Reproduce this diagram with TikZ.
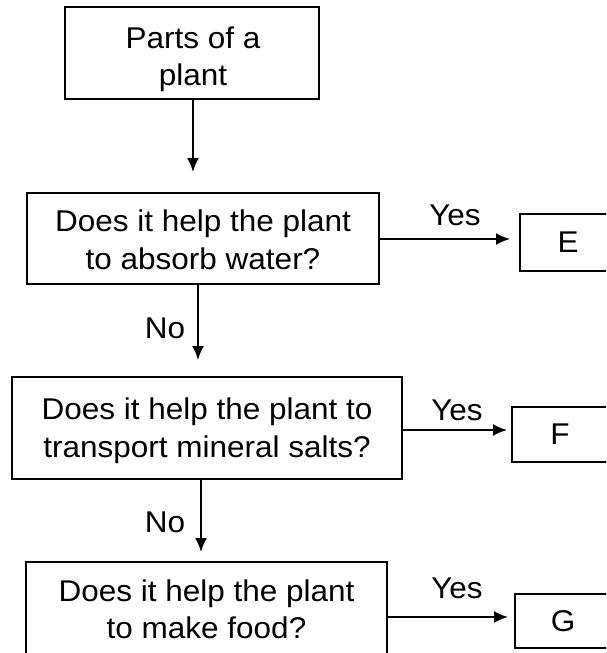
\documentclass[tikz,border=0pt]{standalone}
\usepackage{fontspec}
\setmainfont{Liberation Sans}[FakeStretch=1.05]
\usetikzlibrary{arrows.meta}
\begin{document}
\begin{tikzpicture}[x=1pt,y=-1pt,
  box/.style={draw=black,line width=2pt,rectangle,inner sep=0pt},
  qtext/.style={inner sep=0pt,align=center,font=\fontsize{30}{38}\selectfont},
  lbl/.style={inner sep=0pt,font=\fontsize{30}{36}\selectfont},
  arr/.style={draw=black,line width=2pt,-{Latex[length=14pt,width=12pt]}}]
\useasboundingbox (0,0) rectangle (606,653);
\clip (0,0) rectangle (606,653);
% question boxes
\node[box,minimum width=254pt,minimum height=92pt] (b1) at (192,53) {};
\node[box,minimum width=352pt,minimum height=91pt] (b2) at (203,238.5) {};
\node[box,minimum width=390pt,minimum height=102pt] (b3) at (207,428) {};
\node[box,minimum width=361pt,minimum height=104pt] (b4) at (206.5,614) {};
% texts
\node[qtext,font=\fontsize{30}{37}\selectfont] (q1) at (193,58.8) {Parts of a\\plant};
\node[qtext] (q2) at (203,240) {Does it help the plant\\to absorb water?};
\node[qtext] (q3) at (207,431) {Does it help the plant to\\transport mineral salts?};
\node[qtext,font=\fontsize{30}{37}\selectfont] (q4) at (206.5,609.5) {Does it help the plant\\to make food?};
% answer boxes
\node[box,lbl,minimum width=96pt,minimum height=57pt] (E) at (568,242.5) {E};
\node[box,lbl,minimum width=96pt,minimum height=55pt] (F) at (560,434.5) {F};
\node[box,lbl,minimum width=96pt,minimum height=54pt] (G) at (563,621) {G};
% labels
\node[lbl] (y1) at (455,215) {Yes};
\node[lbl] (y2) at (457,410) {Yes};
\node[lbl] (y3) at (457,588) {Yes};
\node[lbl] (n1) at (165,328) {No};
\node[lbl] (n2) at (165,522) {No};
% arrow end points
\coordinate (t1) at (193,172);
\coordinate (t2) at (198,360);
\coordinate (t3) at (201,552);
\coordinate (e1) at (510,239);
\coordinate (e2) at (507,430);
\coordinate (e3) at (508,617);
% connectors
\draw[arr] (b1.south -| t1) -- (t1);
\draw[arr] (b2.south -| t2) -- (t2);
\draw[arr] (b3.south -| t3) -- (t3);
\draw[arr] (b2.east |- e1) -- (e1);
\draw[arr] (b3.east |- e2) -- (e2);
\draw[arr] (b4.east |- e3) -- (e3);
\end{tikzpicture}
\end{document}
